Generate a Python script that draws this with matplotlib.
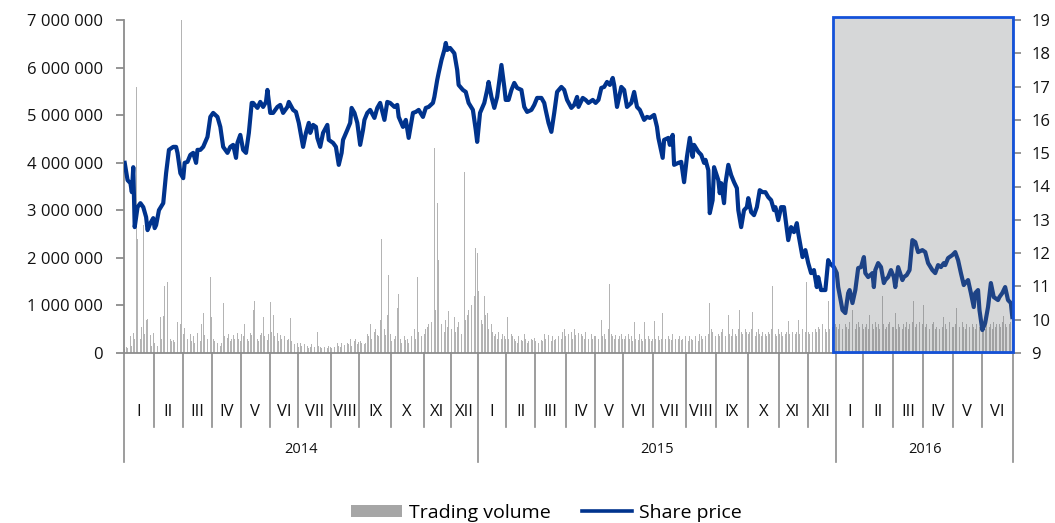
import matplotlib.pyplot as plt
from matplotlib.patches import Rectangle, Patch
from matplotlib.lines import Line2D
from matplotlib.ticker import FuncFormatter, MultipleLocator
import matplotlib.transforms as mtransforms
import numpy as np

plt.rcParams["font.family"] = ["Open Sans", "DejaVu Sans"]

# trading sessions per month, Jan 2014 - Jun 2016
years = ["2014", "2015", "2016"]
sessions = [
    [21, 20, 21, 20, 20, 20, 23, 20, 22, 23, 19, 19],
    [20, 20, 22, 20, 20, 21, 23, 21, 22, 22, 20, 20],
    [19, 21, 21, 21, 20, 22],
]
months = ["I", "II", "III", "IV", "V", "VI", "VII", "VIII", "IX", "X", "XI", "XII"]

# daily trading volume, thousands of shares, one list per month
volume_k = [
    [90, 120, 110, 80, 350, 150, 420, 300, 5600, 2400, 450, 300, 550, 2700, 400, 700, 720, 500, 380, 150, 420],
    [200, 420, 150, 350, 760, 300, 780, 1400, 500, 1500, 850, 300, 250, 280, 240, 450, 650, 380, 600, 7000],
    [400, 520, 970, 300, 280, 400, 250, 350, 200, 1050, 420, 300, 250, 600, 850, 380, 250, 300, 200, 1600, 750],
    [300, 250, 180, 200, 300, 150, 220, 1050, 350, 280, 320, 400, 250, 300, 380, 290, 830, 420, 300, 260],
    [400, 350, 600, 550, 300, 250, 420, 380, 900, 1100, 500, 300, 250, 380, 420, 750, 350, 300, 280, 400],
    [1080, 450, 800, 350, 300, 420, 250, 380, 300, 800, 350, 500, 280, 300, 740, 250, 200, 180, 150, 200],
    [120, 200, 150, 3450, 180, 220, 150, 100, 130, 180, 160, 120, 90, 450, 150, 130, 100, 170, 120, 80, 100, 150, 130],
    [100, 140, 120, 180, 200, 150, 130, 220, 180, 160, 250, 200, 180, 300, 150, 220, 260, 300, 180, 240],
    [250, 200, 300, 180, 220, 400, 350, 600, 300, 250, 450, 500, 380, 350, 700, 2400, 900, 500, 380, 800, 1650, 400],
    [250, 200, 300, 350, 950, 1250, 300, 200, 250, 350, 280, 300, 220, 400, 350, 280, 500, 300, 1600, 450, 380, 350, 550],
    [400, 500, 550, 600, 800, 650, 700, 4300, 900, 3150, 1950, 1950, 600, 500, 450, 700, 550, 880, 600],
    [500, 600, 750, 450, 550, 650, 500, 400, 600, 3800, 700, 800, 900, 1450, 1000, 1850, 1200, 2200, 2100],
    [1300, 900, 700, 600, 1200, 800, 850, 500, 400, 600, 450, 350, 400, 300, 450, 350, 300, 400, 350, 300],
    [750, 300, 250, 400, 350, 300, 250, 200, 350, 300, 280, 250, 400, 300, 220, 250, 350, 300, 280, 320],
    [250, 300, 200, 350, 280, 250, 400, 300, 220, 380, 300, 250, 350, 280, 300, 2800, 350, 400, 300, 450, 500, 350],
    [300, 400, 350, 450, 300, 500, 380, 350, 420, 820, 400, 350, 300, 450, 380, 300, 350, 400, 300, 350],
    [350, 400, 300, 450, 700, 350, 400, 300, 850, 500, 1450, 400, 350, 300, 380, 450, 300, 350, 400, 300],
    [300, 350, 280, 400, 300, 350, 250, 650, 300, 350, 280, 400, 300, 250, 650, 300, 280, 350, 300, 250, 300],
    [670, 300, 250, 350, 280, 300, 850, 400, 300, 250, 350, 300, 280, 400, 350, 300, 250, 300, 350, 280, 300, 250, 350],
    [300, 250, 350, 300, 280, 400, 350, 300, 250, 400, 350, 300, 280, 350, 300, 400, 1050, 500, 450, 400, 350],
    [950, 400, 350, 450, 500, 400, 350, 450, 800, 400, 350, 500, 450, 400, 350, 500, 900, 450, 400, 350, 500, 450],
    [400, 450, 500, 870, 400, 350, 450, 500, 400, 350, 450, 500, 400, 350, 450, 400, 500, 1400, 450, 400, 350, 500],
    [400, 450, 350, 500, 400, 450, 670, 400, 350, 450, 500, 400, 450, 700, 400, 450, 500, 400, 450, 1500],
    [450, 400, 500, 450, 700, 500, 450, 550, 500, 400, 600, 550, 500, 450, 1100, 500, 450, 550, 500, 600],
    [550, 500, 600, 850, 500, 450, 600, 550, 500, 650, 600, 900, 550, 500, 600, 650, 550, 500, 600],
    [500, 550, 600, 500, 800, 550, 600, 500, 650, 550, 600, 500, 550, 1200, 600, 500, 550, 600, 650, 500, 550],
    [550, 850, 500, 600, 550, 750, 500, 600, 550, 650, 500, 600, 550, 650, 1100, 550, 600, 500, 650, 550, 600],
    [1000, 550, 600, 970, 500, 550, 600, 650, 500, 550, 600, 500, 650, 550, 750, 600, 500, 550, 650, 600, 550],
    [550, 600, 950, 500, 550, 600, 650, 550, 500, 600, 650, 550, 800, 600, 550, 500, 600, 650, 550, 600],
    [550, 600, 500, 650, 700, 550, 600, 500, 650, 550, 600, 500, 600, 550, 650, 780, 600, 550, 500, 600, 650, 550],
]

# share price (PLN) at selected sessions
price_day = [
    0, 2, 4, 5, 6, 7, 9, 11, 13, 15, 16, 18, 20, 21, 22, 24, 27, 29, 31, 34,
    36, 37, 39, 41, 42, 44, 46, 48, 50, 51, 53, 55, 58, 60, 62, 65, 67, 69, 72, 74,
    76, 78, 79, 81, 83, 85, 87, 89, 90, 93, 95, 97, 99, 100, 102, 104, 107, 109, 111, 114,
    115, 118, 120, 122, 125, 127, 129, 130, 132, 134, 135, 137, 139, 142, 143, 146, 148, 150, 152, 153,
    156, 158, 159, 161, 163, 165, 167, 168, 170, 172, 175, 177, 179, 182, 184, 186, 189, 191, 192, 195,
    197, 199, 202, 204, 206, 209, 211, 213, 216, 217, 219, 220, 222, 224, 225, 226, 228, 231, 233, 234,
    237, 239, 241, 244, 246, 247, 249, 252, 254, 255, 257, 259, 261, 264, 266, 267, 269, 271, 273, 275,
    278, 280, 282, 285, 287, 289, 292, 294, 295, 297, 299, 301, 303, 306, 308, 310, 313, 315, 317, 318,
    321, 323, 325, 328, 330, 332, 334, 336, 338, 340, 342, 343, 345, 348, 350, 352, 355, 357, 359, 361,
    364, 366, 368, 371, 373, 374, 377, 378, 381, 382, 384, 385, 388, 390, 392, 394, 396, 398, 399, 402,
    404, 406, 407, 409, 410, 412, 413, 416, 417, 418, 420, 421, 423, 425, 427, 429, 430, 432, 434, 436,
    437, 439, 441, 443, 445, 447, 449, 451, 453, 455, 456, 458, 460, 462, 465, 467, 469, 471, 472, 475,
    477, 479, 481, 483, 485, 486, 488, 491, 493, 494, 497, 499, 500, 503, 505, 507, 508, 510, 512, 514,
    516, 518, 519, 521, 524, 525, 526, 528, 530, 532, 533, 535, 537, 539, 540, 542, 545, 546, 548, 550,
    552, 554, 556, 559, 561, 563, 566, 568, 570, 572, 574, 575, 577, 580, 582, 584, 586, 588, 589, 591,
    593, 595, 596, 598, 599, 601, 603, 605, 607, 609, 612, 613, 615, 617, 619, 621, 622,
]
price = [
    14.71, 14.19, 14.10, 13.83, 14.58, 12.78, 13.38, 13.50, 13.38, 13.08, 12.69, 12.90, 13.05, 12.75, 12.84, 13.29, 13.50, 14.40, 15.10, 15.19,
    15.19, 15.01, 14.40, 14.25, 14.71, 14.74, 14.95, 15.01, 14.71, 15.10, 15.10, 15.19, 15.49, 16.09, 16.21, 16.09, 15.79, 15.19, 15.01, 15.19,
    15.25, 14.86, 15.31, 15.55, 15.10, 15.01, 15.61, 16.51, 16.51, 16.36, 16.54, 16.39, 16.54, 16.90, 16.21, 16.21, 16.39, 16.45, 16.21, 16.39,
    16.54, 16.30, 16.24, 15.91, 15.19, 15.61, 15.91, 15.61, 15.85, 15.79, 15.46, 15.19, 15.61, 15.85, 15.40, 15.31, 15.19, 14.65, 15.01, 15.40,
    15.70, 15.91, 16.36, 16.21, 15.91, 15.25, 15.70, 16.00, 16.21, 16.30, 16.06, 16.36, 16.51, 16.00, 16.54, 16.51, 16.39, 16.45, 16.09, 15.79,
    16.00, 15.46, 16.21, 16.24, 16.30, 16.09, 16.36, 16.39, 16.51, 16.69, 17.20, 17.41, 17.80, 18.10, 18.31, 18.10, 18.16, 18.00, 17.50, 17.05,
    16.90, 16.84, 16.51, 16.30, 15.70, 15.34, 16.21, 16.51, 16.90, 17.14, 16.69, 16.36, 16.69, 17.65, 16.99, 16.60, 16.60, 16.90, 17.11, 16.96,
    16.90, 16.39, 16.24, 16.30, 16.45, 16.66, 16.66, 16.51, 16.30, 15.91, 15.64, 16.21, 16.84, 16.99, 16.90, 16.60, 16.36, 16.45, 16.69, 16.39,
    16.66, 16.60, 16.51, 16.60, 16.51, 16.60, 16.96, 16.99, 17.14, 17.05, 17.26, 17.05, 16.39, 16.99, 16.90, 16.39, 16.51, 16.84, 16.39, 16.30,
    16.00, 16.09, 16.06, 16.15, 15.79, 15.46, 14.86, 15.40, 15.46, 15.25, 15.55, 14.65, 14.71, 14.74, 14.13, 14.89, 15.46, 14.89, 15.25, 15.04,
    14.95, 14.71, 14.80, 14.49, 13.20, 13.59, 14.58, 14.19, 13.80, 14.10, 13.50, 14.10, 14.65, 14.34, 14.13, 13.95, 13.29, 12.78, 13.29, 13.38,
    13.65, 13.23, 13.14, 13.38, 13.89, 13.83, 13.83, 13.68, 13.59, 13.29, 13.38, 12.99, 13.38, 13.38, 12.39, 12.78, 12.63, 12.90, 12.60, 11.88,
    12.09, 11.70, 11.40, 11.49, 10.98, 11.28, 10.89, 10.89, 11.79, 11.70, 11.58, 11.40, 10.98, 10.29, 10.20, 10.80, 10.89, 10.50, 10.89, 11.55,
    11.58, 11.88, 11.40, 11.28, 11.40, 10.98, 11.49, 11.70, 11.58, 11.10, 11.19, 11.28, 11.49, 11.28, 10.98, 11.58, 11.19, 11.28, 11.34, 11.49,
    12.39, 12.33, 12.03, 12.09, 12.03, 11.70, 11.49, 11.40, 11.64, 11.58, 11.70, 11.64, 11.85, 11.94, 12.03, 11.79, 11.40, 11.04, 11.10, 11.19,
    10.80, 10.38, 10.80, 10.89, 10.29, 9.69, 9.90, 10.38, 11.10, 10.68, 10.59, 10.68, 10.80, 10.98, 10.59, 10.50, 10.08,
]

volume = np.concatenate([np.array(m) * 1000 for m in volume_k])
days = np.arange(len(volume))
month_counts = [n for yr in sessions for n in yr]
bounds = np.concatenate([[0], np.cumsum(month_counts)])
year_bounds = np.concatenate([[0], np.cumsum([sum(yr) for yr in sessions])])

AXIS_GREY = "#8c8c8c"
PRICE_BLUE = "#00338d"

fig = plt.figure(figsize=(10.55, 5.23), dpi=100)
ax = fig.add_axes([124 / 1055, 1 - 353 / 523, (1013 - 124) / 1055, 333 / 523])
ax2 = ax.twinx()

ax.bar(days, volume, width=0.55, color="#b4b4b4", linewidth=0, zorder=1)
ax2.plot(price_day, price, color=PRICE_BLUE, lw=3.0, solid_joinstyle="round", zorder=3)

ax.set_xlim(-0.5, len(volume) - 0.5)
ax.set_ylim(0, 7_000_000)
ax2.set_ylim(9, 19)
ax.yaxis.set_major_locator(MultipleLocator(1_000_000))
ax2.yaxis.set_major_locator(MultipleLocator(1))
ax.yaxis.set_major_formatter(FuncFormatter(lambda v, _: f"{int(v):,}".replace(",", " ")))
ax2.yaxis.set_major_formatter(FuncFormatter(lambda v, _: f"{int(v)}"))

for a in (ax, ax2):
    for s in a.spines.values():
        s.set_visible(False)
    a.set_xticks([])
ax.spines["left"].set_visible(True)
ax.spines["bottom"].set_visible(True)
ax2.spines["right"].set_visible(True)
for s in (ax.spines["left"], ax.spines["bottom"], ax2.spines["right"]):
    s.set_color(AXIS_GREY)
    s.set_linewidth(1.3)
ax.tick_params(axis="y", colors=AXIS_GREY, length=6, width=1.3, labelsize=12, labelcolor="#111111", pad=9)
ax2.tick_params(axis="y", colors=AXIS_GREY, length=6, width=1.3, labelsize=12, labelcolor="#111111", pad=7)

# month / year category axis below the plot
trans = mtransforms.blended_transform_factory(ax.transData, ax.transAxes)
for b in bounds:
    x = b - 0.5
    low = -0.327 if b in year_bounds else -0.222
    ax.plot([x, x], [0, low], transform=trans, color=AXIS_GREY, lw=1.2, clip_on=False)
for i, n in enumerate(month_counts):
    mid = (bounds[i] + bounds[i + 1]) / 2 - 0.5
    ax.text(mid, -0.177, months[i % 12], transform=trans, ha="center", va="center",
            fontsize=12, color="#111111")
for i, yr in enumerate(years):
    mid = (year_bounds[i] + year_bounds[i + 1]) / 2 - 0.5
    ax.text(mid, -0.29, yr, transform=trans, ha="center", va="center", fontsize=10.5,
            color="#111111", fontweight="medium")

# highlighted period: 2016
t2 = mtransforms.blended_transform_factory(ax2.transData, ax2.transAxes)
x0 = year_bounds[2] - 2.5
x1 = len(volume) - 0.8
ax2.add_patch(Rectangle((x0, 0.003), x1 - x0, 1.006, transform=t2, facecolor="#6e7076",
                        alpha=0.28, edgecolor="none", zorder=5, clip_on=False))
ax2.add_patch(Rectangle((x0, 0.003), x1 - x0, 1.006, transform=t2, facecolor="none",
                        edgecolor="#1452d9", lw=2.0, zorder=6, clip_on=False))

handles = [Patch(facecolor="#a6a6a6", edgecolor="none"),
           Line2D([0], [0], color=PRICE_BLUE, lw=2.6)]
fig.legend(handles, ["Trading volume", "Share price"], loc="center",
           bbox_to_anchor=(0.518, 0.02), ncol=2, frameon=False, fontsize=14,
           handlelength=2.6, handleheight=0.6, handletextpad=0.35, columnspacing=1.6)

fig.savefig("out.png", dpi=100)
